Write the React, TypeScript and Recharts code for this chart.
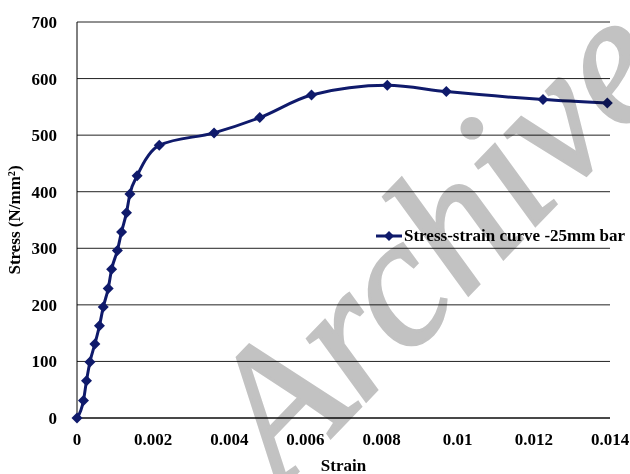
import React from 'react'
import {
  LineChart,
  Line,
  XAxis,
  YAxis,
  CartesianGrid,
  Legend,
  Label,
} from 'recharts'

// strain readings (mm/mm) and matching stress (N/mm²)
const strain = [
  0, 0.00017, 0.00025, 0.00034, 0.00047, 0.00059, 0.00069, 0.00082, 0.00091,
  0.00106, 0.00117, 0.0013, 0.00139, 0.00158, 0.00216, 0.0036, 0.0048,
  0.00616, 0.00815, 0.0097, 0.01224, 0.01393,
]
const stress = [
  0, 31, 66, 99, 131, 163, 196, 229, 263, 296, 329, 363, 396, 428, 482, 504,
  531, 571, 588, 577, 563, 557,
]

const strainTicks = [0, 0.002, 0.004, 0.006, 0.008, 0.01, 0.012, 0.014]
const stressTicks = [0, 100, 200, 300, 400, 500, 600, 700]

const seriesName = 'Stress-strain curve -25mm bar'

const data = strain.map((s, i) => ({ strain: s, stress: stress[i] }))

const NAVY = '#0f1a6b'
const FONT = 'Liberation Serif, serif'
const textStyle = { fontFamily: FONT, fontSize: 17, fontWeight: 'bold', fill: '#000' }

const Diamond = (props: any) => {
  const { cx, cy } = props
  if (cx == null || cy == null) return null
  const r = 5.5
  return (
    <polygon
      points={`${cx},${cy - r} ${cx + r},${cy} ${cx},${cy + r} ${cx - r},${cy}`}
      fill={NAVY}
    />
  )
}

const LegendBox = () => (
  <div
    style={{
      display: 'flex',
      alignItems: 'center',
      fontFamily: FONT,
      whiteSpace: 'nowrap',
    }}
  >
    <svg width={30} height={12}>
      <line x1={2} y1={6} x2={28} y2={6} stroke={NAVY} strokeWidth={3} />
      <polygon points="15,1 20,6 15,11 10,6" fill={NAVY} />
    </svg>
    <span style={{ fontWeight: 'bold', fontSize: 17, color: '#000' }}>
      {seriesName}
    </span>
  </div>
)

export default function App() {
  return (
    <div
      style={{
        position: 'absolute',
        left: 0,
        top: 0,
        width: 630,
        height: 474,
        background: '#fff',
        overflow: 'hidden',
        isolation: 'isolate',
      }}
    >
      <LineChart
        width={630}
        height={474}
        data={data}
        margin={{ top: 22, right: 20, bottom: 8, left: 0 }}
      >
        <CartesianGrid vertical={false} stroke="#222" strokeWidth={1} />
        <XAxis
          dataKey="strain"
          type="number"
          domain={[0, 0.014]}
          ticks={strainTicks}
          interval={0}
          tickFormatter={(v: number) => String(v)}
          tick={textStyle}
          axisLine={{ stroke: '#000' }}
          tickLine={false}
          tickMargin={9}
          height={48}
        >
          <Label value="Strain" position="insideBottom" offset={-5} style={textStyle} />
        </XAxis>
        <YAxis
          type="number"
          domain={[0, 700]}
          ticks={stressTicks}
          interval={0}
          tick={textStyle}
          axisLine={{ stroke: '#000' }}
          tickLine={false}
          tickMargin={14}
          width={77}
        >
          <Label
            value="Stress (N/mm²)"
            angle={-90}
            position="insideLeft"
            offset={14}
            style={{ ...textStyle, textAnchor: 'middle' }}
          />
        </YAxis>
        <Legend
          content={<LegendBox />}
          layout="horizontal"
          verticalAlign="middle"
          align="center"
          wrapperStyle={{ left: 374, top: 226, width: 256 }}
        />
        <Line
          type="monotone"
          dataKey="stress"
          name={seriesName}
          stroke={NAVY}
          strokeWidth={3}
          dot={<Diamond />}
          activeDot={false}
          isAnimationActive={false}
        />
      </LineChart>
      {/* grey watermark, multiplied over the plot */}
      <svg
        width={630}
        height={474}
        style={{
          position: 'absolute',
          left: 0,
          top: 0,
          pointerEvents: 'none',
          mixBlendMode: 'multiply',
        }}
      >
        <text
          x={0}
          y={0}
          transform="translate(282,488) rotate(-46)"
          fontFamily={FONT}
          fontStyle="italic"
          fontSize={186}
          stroke="#c2c2c2"
          strokeWidth={3}
          fill="#c2c2c2"
        >
          Archive
        </text>
      </svg>
    </div>
  )
}
